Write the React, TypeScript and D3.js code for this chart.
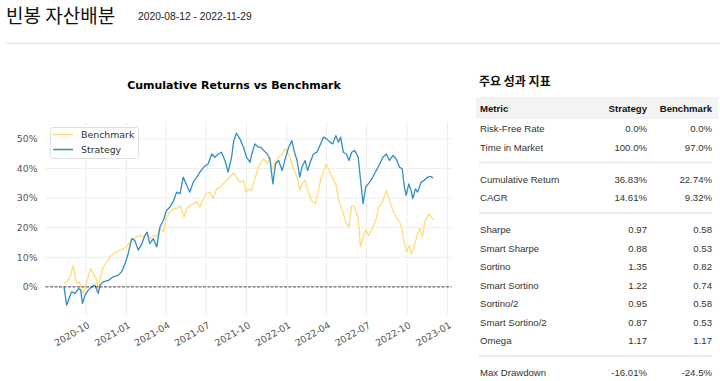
import React from "react";
import * as d3 from "d3";

const strategyDates = [
  "2020-08-12","2020-08-18","2020-08-22","2020-08-29","2020-09-06","2020-09-14","2020-09-19","2020-09-23","2020-09-29",
  "2020-10-06","2020-10-14","2020-10-21","2020-10-29","2020-11-02","2020-11-09","2020-11-21","2020-12-02","2020-12-13",
  "2020-12-21","2020-12-29","2021-01-05","2021-01-13","2021-01-20","2021-01-28","2021-02-05","2021-02-12","2021-02-17",
  "2021-02-23","2021-03-03","2021-03-11","2021-03-18","2021-03-26","2021-04-02","2021-04-10","2021-04-17","2021-04-25",
  "2021-05-03","2021-05-10","2021-05-18","2021-05-25","2021-06-02","2021-06-10","2021-06-17","2021-06-25","2021-07-06",
  "2021-07-14","2021-07-21","2021-07-29","2021-08-05","2021-08-13","2021-08-20","2021-08-28","2021-09-02","2021-09-08",
  "2021-09-16","2021-09-24","2021-10-01","2021-10-09","2021-10-13","2021-10-20","2021-10-28",
  "2021-11-02","2021-11-09","2021-11-17","2021-11-23","2021-11-30","2021-12-06","2021-12-13","2021-12-21","2021-12-28",
  "2022-01-05","2022-01-12","2022-01-18","2022-01-24","2022-01-30","2022-02-04","2022-02-11","2022-02-17","2022-02-23",
  "2022-03-02","2022-03-10","2022-03-17","2022-03-25","2022-04-01","2022-04-09","2022-04-15","2022-04-22","2022-04-28",
  "2022-05-03","2022-05-09","2022-05-16","2022-05-22","2022-05-28","2022-06-04","2022-06-12","2022-06-17","2022-06-23",
  "2022-06-29","2022-07-08","2022-07-15","2022-07-23","2022-07-31","2022-08-07","2022-08-15","2022-08-22","2022-08-30",
  "2022-09-06","2022-09-14","2022-09-20","2022-09-25","2022-09-29","2022-10-05","2022-10-10","2022-10-14","2022-10-20",
  "2022-10-25","2022-11-02","2022-11-09","2022-11-17","2022-11-24","2022-11-29"
];
const strategyValues = [
  0,-6.2,-4.5,-1.7,-2.2,-0.6,-1.1,-5.6,-2.8,
  -1.1,0,0.6,-2.2,0.6,1.7,2.2,3.4,3.9,
  5.1,7.9,11.2,16.3,15.7,12.4,14.6,17.4,18.5,
  14.6,16.3,13.5,20.2,22.5,25.8,27.0,28.7,32.0,
  31.5,37.1,34.3,32.0,35.4,37.1,38.8,40.4,41.6,
  44.9,43.8,44.9,45.5,42.7,38.8,43.8,49.4,51.9,
  50.0,47.2,43.8,42.1,44.9,48.3,47.2,
  47.2,46.1,44.9,43.3,34.8,41.6,42.7,39.3,43.3,
  47.2,49.4,45.5,42.7,37.1,40.4,42.7,39.3,42.1,
  44.9,45.5,47.8,50.6,50.0,48.9,48.3,51.1,48.9,
  50.6,45.5,44.9,42.7,45.5,46.1,43.8,36.5,28.1,
  33.7,35.4,37.1,39.3,41.6,43.8,44.9,42.7,44.4,
  43.3,40.4,39.9,33.7,30.9,34.8,32.6,29.8,33.1,
  32.0,35.4,36.0,37.1,37.3,36.83
];

const benchmarkDates = [
  "2020-08-12","2020-08-18","2020-08-26","2020-09-02","2020-09-06","2020-09-11","2020-09-16","2020-09-21","2020-09-25",
  "2020-10-01","2020-10-06","2020-10-12","2020-10-18","2020-10-24","2020-10-29","2020-11-03","2020-11-09","2020-11-17",
  "2020-11-25","2020-12-02","2020-12-10","2020-12-17","2020-12-25","2021-01-01","2021-01-09","2021-01-17","2021-01-24",
  "2021-02-01","2021-02-08","2021-02-16","2021-02-23","2021-03-03","2021-03-11","2021-03-18","2021-03-26","2021-04-02",
  "2021-04-10","2021-04-17","2021-04-25","2021-05-03","2021-05-12","2021-05-18","2021-05-25","2021-06-02","2021-06-10",
  "2021-06-17","2021-06-25","2021-07-02","2021-07-10","2021-07-17","2021-07-25","2021-08-02","2021-08-09","2021-08-17",
  "2021-08-24","2021-09-01","2021-09-08","2021-09-16","2021-09-24","2021-09-30","2021-10-05","2021-10-13","2021-10-20",
  "2021-10-28","2021-11-02","2021-11-09","2021-11-17","2021-11-23","2021-11-28","2021-12-06","2021-12-13","2021-12-21",
  "2021-12-28","2022-01-02","2022-01-08","2022-01-12","2022-01-18","2022-01-24","2022-01-30","2022-02-04","2022-02-11",
  "2022-02-19","2022-02-26","2022-03-06","2022-03-13","2022-03-19","2022-03-25","2022-03-31","2022-04-07","2022-04-15",
  "2022-04-22","2022-04-28","2022-05-03","2022-05-09","2022-05-16","2022-05-22","2022-05-28","2022-06-04","2022-06-12",
  "2022-06-17","2022-06-23","2022-06-29","2022-07-06","2022-07-14","2022-07-22","2022-07-29","2022-08-06","2022-08-15",
  "2022-08-22","2022-08-30","2022-09-06","2022-09-14","2022-09-20","2022-09-25","2022-09-30","2022-10-06","2022-10-11",
  "2022-10-17","2022-10-25","2022-10-30","2022-11-05","2022-11-11","2022-11-17","2022-11-20","2022-11-29"
];
const benchmarkValues = [
  1.1,1.7,3.4,7.3,3.4,1.1,1.7,-1.1,-2.2,
  0.6,3.4,6.2,4.5,2.8,-0.6,3.4,6.7,8.4,
  10.1,11.2,11.8,12.4,12.9,13.5,15.2,16.3,16.9,
  17.4,16.9,18.0,16.3,17.4,16.9,19.7,18.5,23.6,
  25.3,26.4,26.4,27.5,23.6,26.4,27.5,28.1,28.7,
  27.0,29.8,31.5,32.0,29.8,33.1,33.7,34.8,36.0,
  37.1,38.4,37.1,35.4,36.0,32.0,33.1,32.6,36.5,
  40.4,41.6,43.3,41.6,43.8,39.3,42.1,43.8,44.9,
  46.6,45.5,43.8,41.6,39.3,37.1,32.6,34.8,36.0,
  32.0,29.2,28.1,32.0,36.5,38.8,41.6,39.3,36.5,
  34.8,29.8,27.0,24.7,21.3,20.2,27.5,27.0,23.0,
  13.5,16.9,19.1,17.4,19.7,22.5,27.0,28.7,32.6,
  29.2,25.8,23.6,21.9,19.1,14.6,11.8,14.0,11.2,
  13.5,18.0,19.7,16.9,22.5,23.6,24.7,22.74
];

const xTickLabels = ["2020-10","2021-01","2021-04","2021-07","2021-10","2022-01","2022-04","2022-07","2022-10","2023-01"];
const yTickValues = [0, 10, 20, 30, 40, 50];

const metricNames = ["Risk-Free Rate","Time in Market","Cumulative Return","CAGR","Sharpe","Smart Sharpe","Sortino","Smart Sortino","Sortino/2","Smart Sortino/2","Omega","Max Drawdown"];
const strategyMetrics = ["0.0%","100.0%","36.83%","14.61%","0.97","0.88","1.35","1.22","0.95","0.87","1.17","-16.01%"];
const benchmarkMetrics = ["0.0%","97.0%","22.74%","9.32%","0.58","0.53","0.82","0.74","0.58","0.53","1.17","-24.5%"];
const metricGroupSizes = [2, 2, 7, 1];

const STRAT = "#348dc1";
const BENCH = "#fedd78";
const TICK = "#555";
const GRID = "#eeeeee";

export default function App() {
  const parse = d3.timeParse("%Y-%m-%d");
  const strat = strategyDates.map((d, i) => ({ date: parse(d)!, v: strategyValues[i] / 100 }));
  const bench = benchmarkDates.map((d, i) => ({ date: parse(d)!, v: benchmarkValues[i] / 100 }));

  const allDates = strat.map((d) => d.date);
  const [d0, d1] = d3.extent(allDates) as [Date, Date];
  const x = d3.scaleTime().domain([d0, d1]).range([64, 433]);
  const y = d3.scaleLinear().domain([-0.095, 0.557]).range([315, 122]);
  const plotL = 45.5, plotR = 451.5, plotT = 122, plotB = 315;

  const line = d3
    .line<{ date: Date; v: number }>()
    .x((d) => x(d.date))
    .y((d) => y(d.v));

  const xTicks = xTickLabels.map((l) => parse(l + "-01")!);
  const fmtX = d3.timeFormat("%Y-%m");

  // table rows
  const rows: { name: string; s: string; b: string; y: number }[] = [];
  const seps: number[] = [];
  let cy = 132;
  let idx = 0;
  metricGroupSizes.forEach((size, gi) => {
    for (let k = 0; k < size; k++) {
      rows.push({ name: metricNames[idx], s: strategyMetrics[idx], b: benchmarkMetrics[idx], y: cy });
      idx++;
      if (k < size - 1) cy += 18.5;
    }
    if (gi < metricGroupSizes.length - 1) {
      seps.push(cy + 12);
      cy += 32;
    }
  });

  const tFont = "'Liberation Sans', Arial, sans-serif";
  const mFont = "'DejaVu Sans', sans-serif";
  const kFont = "'Noto Sans CJK KR', sans-serif";

  return (
    <svg width={720} height={381} style={{ position: "absolute", left: 0, top: 0, background: "#fff" }}>
      <rect x={0} y={0} width={720} height={381} fill="#fff" />
      {/* header */}
      <text x={6} y={23} fontFamily={kFont} fontSize={19} fill="#111">빈봉 자산배분</text>
      <text x={138} y={19.5} fontFamily={tFont} fontSize={10.3} fill="#222">2020-08-12 - 2022-11-29</text>
      <line x1={5} x2={720} y1={43.5} y2={43.5} stroke="#e8e8e8" strokeWidth={1.5} />

      {/* chart */}
      <text x={234} y={88.5} textAnchor="middle" fontFamily={mFont} fontWeight="bold" fontSize={11} fill="#000">
        Cumulative Returns vs Benchmark
      </text>
      {xTicks.map((t, i) => (
        <line key={"gx" + i} x1={x(t)} x2={x(t)} y1={plotT} y2={plotB} stroke={GRID} strokeWidth={1} />
      ))}
      {yTickValues.map((v) => (
        <line key={"gy" + v} x1={plotL} x2={plotR} y1={y(v / 100)} y2={y(v / 100)} stroke={GRID} strokeWidth={1} />
      ))}
      {yTickValues.map((v) => (
        <text key={"ty" + v} x={37.5} y={y(v / 100)} dy="0.35em" textAnchor="end" fontFamily={mFont} fontSize={9.3} fill={TICK}>
          {v + "%"}
        </text>
      ))}
      {xTicks.map((t, i) => (
        <text
          key={"tx" + i}
          transform={`translate(${x(t) + 1},${plotB + 6}) rotate(-30)`}
          textAnchor="end"
          dy="0.75em"
          fontFamily={mFont}
          fontSize={9.3}
          fill={TICK}
        >
          {fmtX(t)}
        </text>
      ))}
      <path d={line(bench) || ""} fill="none" stroke={BENCH} strokeWidth={1.3} strokeLinejoin="round" />
      <path d={line(strat) || ""} fill="none" stroke={STRAT} strokeWidth={1.3} strokeLinejoin="round" />
      <line x1={plotL} x2={plotR} y1={y(0)} y2={y(0)} stroke="#000" strokeOpacity={0.7} strokeWidth={1} strokeDasharray="3,1.5" />

      {/* legend */}
      <rect x={50.5} y={127.5} width={88} height={31} rx={2} fill="#fff" fillOpacity={0.8} stroke="#e0e0e0" />
      <line x1={53} x2={73} y1={134.5} y2={134.5} stroke={BENCH} strokeWidth={1.5} />
      <line x1={53} x2={73} y1={149.5} y2={149.5} stroke={STRAT} strokeWidth={1.5} />
      <text x={81} y={134.5} dy="0.35em" fontFamily={mFont} fontSize={9.4} fill="#333">Benchmark</text>
      <text x={81} y={149.5} dy="0.35em" fontFamily={mFont} fontSize={9.4} fill="#333">Strategy</text>

      {/* table */}
      <text x={479} y={86} fontFamily={kFont} fontWeight="bold" fontSize={12} fill="#111">주요 성과 지표</text>
      <rect x={476} y={97} width={242} height={22} fill="#f3f3f3" />
      <text x={480} y={112} fontFamily={tFont} fontWeight="bold" fontSize={9.6} fill="#111">Metric</text>
      <text x={647} y={112} textAnchor="end" fontFamily={tFont} fontWeight="bold" fontSize={9.6} fill="#111">Strategy</text>
      <text x={712} y={112} textAnchor="end" fontFamily={tFont} fontWeight="bold" fontSize={9.6} fill="#111">Benchmark</text>
      {rows.map((r, i) => (
        <g key={"row" + i}>
          <text x={480} y={r.y} fontFamily={tFont} fontSize={9.6} fill="#333">{r.name}</text>
          <text x={647} y={r.y} textAnchor="end" fontFamily={tFont} fontSize={9.6} fill="#333">{r.s}</text>
          <text x={712} y={r.y} textAnchor="end" fontFamily={tFont} fontSize={9.6} fill="#333">{r.b}</text>
        </g>
      ))}
      {seps.map((s, i) => (
        <line key={"sep" + i} x1={479} x2={712} y1={s} y2={s} stroke="#e6e6e6" strokeWidth={1.5} />
      ))}
    </svg>
  );
}
